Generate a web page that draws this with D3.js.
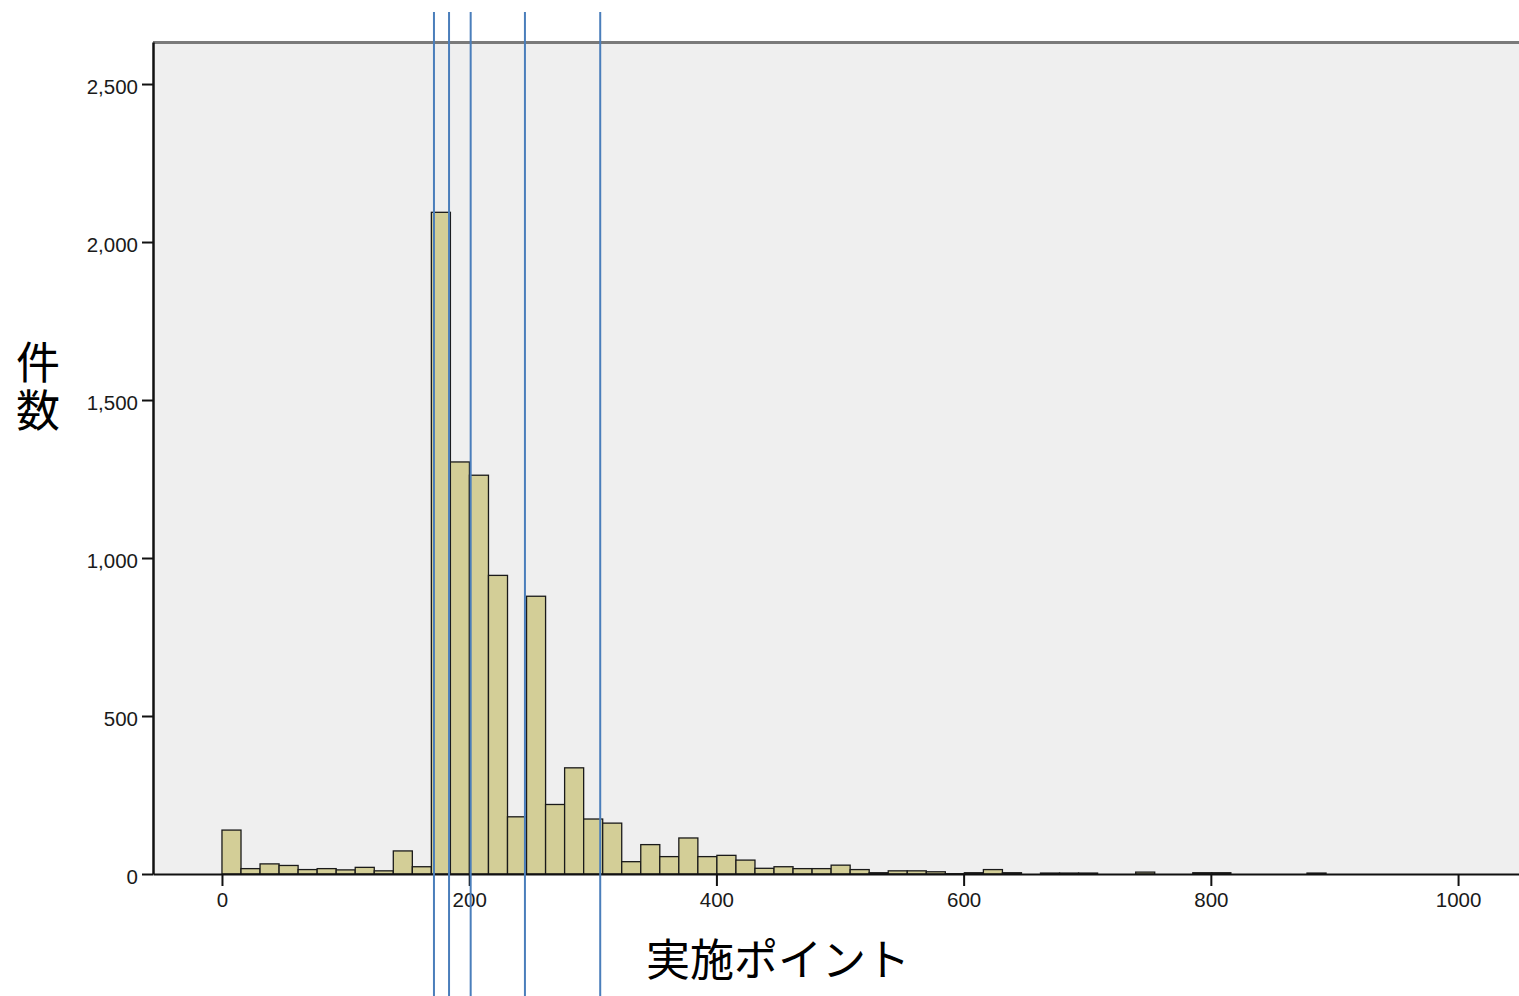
<!DOCTYPE html>
<html lang="ja">
<head>
<meta charset="utf-8">
<title>実施ポイント ヒストグラム</title>
<script src="https://cdn.jsdelivr.net/npm/d3@7"></script>
<style>
  html, body { margin: 0; padding: 0; background: #ffffff; }
  svg { display: block; }
  .tick text { font-family: "Liberation Sans", Arial, sans-serif; fill: #1a1a1a; }
  .cjk { font-family: "Noto Sans CJK JP", "Noto Sans CJK SC", sans-serif; fill: #000; }
</style>
</head>
<body>
<svg id="chart" width="1519" height="996"></svg>
<script>
// Histogram of 実施ポイント: bins start at 0 and share one width
const binStart = 0;
const binWidth = 15.4;
const binCounts = [
  139, 17, 32, 27, 14, 17, 13, 21, 10, 73,
  23, 2094, 1304, 1262, 945, 181, 879, 220, 336, 174,
  161, 39, 93, 55, 114, 55, 59, 44, 18, 23,
  17, 17, 28, 14, 4, 10, 10, 7, 1, 4,
  14, 4, 0, 3, 3, 3, 0, 0, 6, 0,
  0, 4, 4, 0, 0, 0, 0, 3
];

// Reference values marked with vertical lines
const markerValues = [171.5, 183.7, 201.2, 245.1, 306.0];

// Axis ticks and titles
const xTicks = [0, 200, 400, 600, 800, 1000];
const yTicks = [0, 500, 1000, 1500, 2000, 2500];
const xDomain = [-55.8, 1049.3];
const yDomain = [0, 2633];
const xTitle = "実施ポイント";
const yTitle = "件数";

const svg = d3.select("#chart");
const plot = { left: 153, right: 1519, top: 42, bottom: 874 };

const x = d3.scaleLinear().domain(xDomain).range([plot.left, plot.right]);
const y = d3.scaleLinear().domain(yDomain).range([plot.bottom, plot.top]);

// plot background
svg.append("rect")
  .attr("x", plot.left).attr("y", plot.top)
  .attr("width", plot.right - plot.left)
  .attr("height", plot.bottom - plot.top)
  .attr("fill", "#efefef");

// top frame line
svg.append("line")
  .attr("x1", plot.left).attr("x2", plot.right)
  .attr("y1", plot.top + 0.5).attr("y2", plot.top + 0.5)
  .attr("stroke", "#7a7a7a").attr("stroke-width", 3);

// bars
const bins = binCounts.map((c, i) => ({ x0: binStart + i * binWidth, x1: binStart + (i + 1) * binWidth, count: c }));
svg.append("g")
  .selectAll("rect")
  .data(bins.filter(d => d.count > 0))
  .join("rect")
  .attr("x", d => x(d.x0))
  .attr("width", d => x(d.x1) - x(d.x0))
  .attr("y", d => y(d.count))
  .attr("height", d => y(0) - y(d.count))
  .attr("fill", "#d3ce97")
  .attr("stroke", "#1a1a1a")
  .attr("stroke-width", 1.3);

// x axis
const xAxis = d3.axisBottom(x)
  .tickValues(xTicks)
  .tickFormat(d3.format("d"))
  .tickSize(12)
  .tickSizeOuter(0)
  .tickPadding(6);
const gx = svg.append("g")
  .attr("transform", `translate(0,${plot.bottom})`)
  .call(xAxis);
gx.select(".domain").attr("stroke", "#111").attr("stroke-width", 2);
gx.selectAll(".tick line").attr("stroke", "#111").attr("stroke-width", 2);
gx.selectAll(".tick text").attr("font-size", "20.5px");

// y axis
const yAxis = d3.axisLeft(y)
  .tickValues(yTicks)
  .tickFormat(d3.format(","))
  .tickSize(11)
  .tickSizeOuter(0)
  .tickPadding(4);
const gy = svg.append("g")
  .attr("transform", `translate(${plot.left},0)`)
  .call(yAxis);
gy.select(".domain").attr("stroke", "#111").attr("stroke-width", 2.5);
gy.selectAll(".tick line").attr("stroke", "#111").attr("stroke-width", 2);
gy.selectAll(".tick text").attr("font-size", "20.5px").attr("dy", "0.47em");

// marker lines, drawn across the whole chart height
svg.append("g")
  .selectAll("line")
  .data(markerValues)
  .join("line")
  .attr("x1", d => x(d)).attr("x2", d => x(d))
  .attr("y1", 12).attr("y2", 996)
  .attr("stroke", "#4a7ebb")
  .attr("stroke-width", 2);

// axis titles
svg.append("text")
  .attr("class", "cjk")
  .attr("x", 778).attr("y", 976)
  .attr("text-anchor", "middle")
  .attr("font-size", "44px")
  .text(xTitle);

// vertical y title, one character above the other
svg.append("text")
  .attr("class", "cjk")
  .attr("x", 38).attr("y", 340)
  .attr("font-size", "44px")
  .style("writing-mode", "vertical-rl")
  .style("letter-spacing", "4px")
  .text(yTitle);
</script>
</body>
</html>
